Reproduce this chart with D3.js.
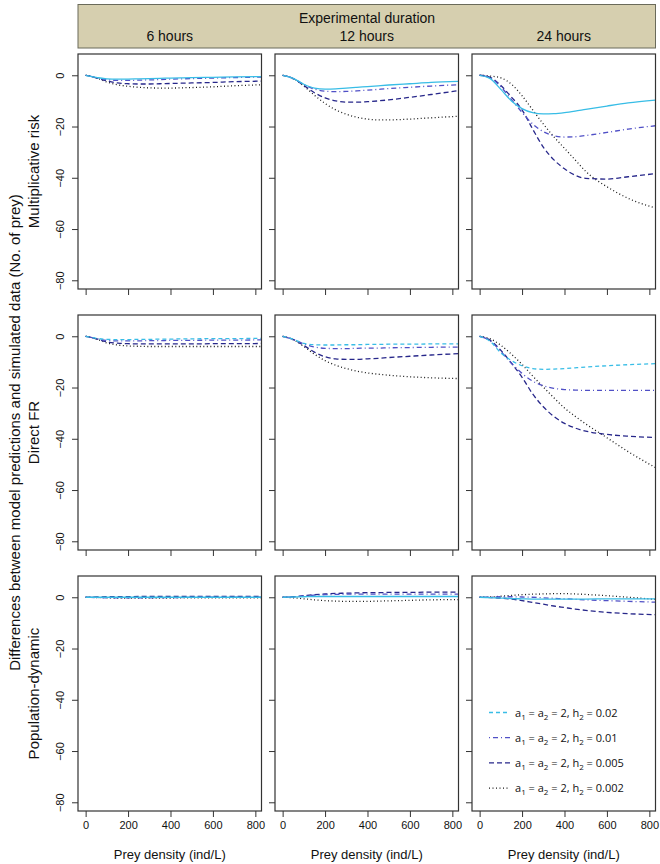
<!DOCTYPE html>
<html><head><meta charset="utf-8">
<script src="https://cdn.jsdelivr.net/npm/d3@7"></script>
<style>body{margin:0;background:#fff}svg{display:block}</style>
</head><body><svg id="c" width="660" height="864"></svg>
<script>
// ---------- data ----------
const durations = ["6 hours", "12 hours", "24 hours"];
const models = ["Multiplicative risk", "Direct FR", "Population-dynamic"];
const preyDensity = [0, 50, 100, 150, 200, 250, 300, 350, 400, 450, 500, 600, 700, 828];
const xTicks = [0, 200, 400, 600, 800];
const yTicks = [0, -20, -40, -60, -80];
const legendH2 = ["0.02", "0.01", "0.005", "0.002"];

// each panel: series for h2 = 0.02, 0.01, 0.005, 0.002
const multRisk6h = [
  [0,-0.8,-1.4,-1.5,-1.5,-1.4,-1.3,-1.2,-1.1,-1.0,-0.9,-0.8,-0.6,-0.5],
  [0,-0.9,-1.7,-2.0,-2.0,-1.9,-1.8,-1.7,-1.5,-1.4,-1.3,-1.1,-0.9,-0.7],
  [0,-1.0,-2.2,-3.0,-3.3,-3.4,-3.4,-3.3,-3.2,-3.1,-3.0,-2.8,-2.5,-2.3],
  [0,-1.0,-2.6,-3.7,-4.3,-4.7,-4.9,-5.0,-5.0,-4.9,-4.8,-4.5,-4.1,-3.7]
];
const multRisk12h = [
  [0,-1.2,-3.5,-5.0,-5.4,-5.3,-5.0,-4.7,-4.4,-4.1,-3.8,-3.3,-2.8,-2.4],
  [0,-1.2,-3.6,-5.4,-6.2,-6.4,-6.3,-6.1,-5.8,-5.5,-5.2,-4.7,-4.2,-3.7],
  [0,-1.3,-4.0,-6.8,-8.8,-10.0,-10.5,-10.5,-10.3,-10.0,-9.6,-8.6,-7.5,-6.0],
  [0,-1.3,-4.2,-7.8,-11.0,-13.5,-15.2,-16.4,-17.1,-17.4,-17.4,-17.1,-16.6,-16.0]
];
const multRisk24h = [
  [0,-1.3,-5.5,-10.0,-13.0,-14.6,-15.1,-15.0,-14.6,-14.0,-13.3,-12.0,-10.8,-9.7],
  [0,-1.0,-4.5,-9.5,-14.5,-19.0,-22.0,-23.6,-24.1,-24.0,-23.5,-22.3,-21.0,-19.7],
  [0,-0.8,-4.0,-8.5,-13.5,-21.0,-28.0,-33.0,-36.5,-39.0,-40.2,-40.5,-39.6,-38.4],
  [0,-0.3,-1.0,-3.5,-8.0,-13.5,-19.0,-24.0,-28.5,-33.0,-37.5,-43.5,-48.0,-51.8]
];
const directFR6h = [
  [0,-0.8,-1.2,-1.3,-1.3,-1.2,-1.2,-1.1,-1.1,-1.0,-1.0,-0.9,-0.9,-0.8],
  [0,-0.9,-1.6,-1.8,-1.8,-1.8,-1.7,-1.7,-1.6,-1.6,-1.6,-1.5,-1.5,-1.4],
  [0,-1.0,-2.2,-2.7,-2.9,-3.0,-3.0,-3.0,-3.0,-3.0,-3.0,-2.9,-2.9,-2.8],
  [0,-1.0,-2.6,-3.4,-3.8,-3.9,-4.0,-4.0,-4.0,-4.0,-4.0,-4.0,-4.0,-4.0]
];
const directFR12h = [
  [0,-1.2,-2.8,-3.3,-3.4,-3.4,-3.3,-3.3,-3.2,-3.2,-3.1,-3.1,-3.0,-3.0],
  [0,-1.2,-3.0,-4.2,-4.7,-4.8,-4.8,-4.7,-4.6,-4.6,-4.5,-4.4,-4.3,-4.2],
  [0,-1.3,-3.6,-6.2,-8.0,-8.8,-9.0,-9.0,-8.8,-8.6,-8.3,-7.8,-7.3,-6.8],
  [0,-1.3,-4.0,-7.0,-9.5,-11.3,-12.6,-13.6,-14.3,-14.8,-15.2,-15.8,-16.2,-16.5]
];
const directFR24h = [
  [0,-2.0,-6.5,-9.5,-11.5,-12.6,-12.9,-12.8,-12.6,-12.3,-12.0,-11.5,-11.1,-10.7],
  [0,-1.8,-6.0,-10.5,-14.5,-17.5,-19.3,-20.3,-20.8,-21.0,-21.1,-21.1,-21.1,-21.1],
  [0,-1.6,-5.5,-10.5,-16.0,-22.5,-27.5,-31.3,-34.0,-35.8,-37.0,-38.3,-39.0,-39.5],
  [0,-1.0,-3.5,-7.0,-11.0,-15.5,-19.8,-24.0,-28.0,-31.2,-34.2,-39.6,-45.0,-51.2]
];
const popDyn6h = [
  [0,0,0,0,0,0,0,0,0,0,0,0,0,0],
  [0,-0.1,-0.2,-0.2,-0.2,-0.2,-0.2,-0.1,-0.1,-0.1,0,0,0,0],
  [0,0.1,0.2,0.2,0.2,0.3,0.3,0.3,0.3,0.3,0.3,0.3,0.3,0.3],
  [0,-0.1,-0.2,-0.3,-0.3,-0.3,-0.3,-0.3,-0.3,-0.2,-0.2,-0.2,-0.2,-0.2]
];
const popDyn12h = [
  [0,0.1,0.2,0.3,0.3,0.3,0.3,0.3,0.3,0.3,0.3,0.3,0.3,0.3],
  [0,0.2,0.5,0.8,1.0,1.1,1.2,1.2,1.2,1.2,1.2,1.2,1.2,1.2],
  [0,0.2,0.6,1.0,1.3,1.5,1.6,1.7,1.8,1.8,1.9,1.9,2.0,2.0],
  [0,-0.2,-0.6,-1.0,-1.3,-1.5,-1.6,-1.6,-1.6,-1.5,-1.4,-1.2,-1.0,-0.9]
];
const popDyn24h = [
  [0,-0.1,-0.3,-0.5,-0.6,-0.7,-0.7,-0.7,-0.7,-0.7,-0.7,-0.6,-0.6,-0.6],
  [0,0.1,0.2,0.2,0.1,0,-0.2,-0.4,-0.6,-0.8,-1.0,-1.3,-1.6,-1.9],
  [0,-0.1,-0.3,-0.7,-1.3,-2.0,-2.7,-3.4,-4.0,-4.6,-5.1,-5.9,-6.4,-6.8],
  [0,0.1,0.4,0.7,1.0,1.2,1.3,1.4,1.4,1.3,1.1,0.6,0,-0.8]
];
const panelData = [
  [multRisk6h, multRisk12h, multRisk24h],
  [directFR6h, directFR12h, directFR24h],
  [popDyn6h, popDyn12h, popDyn24h]
];

// ---------- style ----------
const colors = ["#38bde6", "#5050c6", "#27278a", "#1a1a1a"];
const dashes = ["4,3", "1,3,5,3", "5,3", "1,2.5"];
const solidFirstRow = [true, false, true]; // h2=0.02 drawn solid in rows 1 and 3

const svg = d3.select("#c");
const font = "Liberation Sans, Arial, sans-serif";
const left0 = 78, panelW = 183.5, colGap = 13.5;
const top0 = 54, panelH = 235, rowGap = 26;

// header
const hdr = svg.append("g");
hdr.append("rect").attr("x", 78).attr("y", 4.5).attr("width", 577.5).attr("height", 43.5)
  .attr("fill", "#d6cfaf").attr("stroke", "#6a6a5a").attr("stroke-width", 1);
hdr.append("text").attr("x", 367).attr("y", 22.5).attr("text-anchor", "middle")
  .attr("font-family", font).attr("font-size", 14).attr("fill", "#111").text("Experimental duration");
durations.forEach((d, j) => {
  hdr.append("text").attr("x", left0 + j * (panelW + colGap) + panelW / 2).attr("y", 40.5)
    .attr("text-anchor", "middle").attr("font-family", font).attr("font-size", 14).attr("fill", "#111").text(d);
});

// big y label
svg.append("text").attr("transform", `translate(14,${(top0 + top0 + 3 * panelH + 2 * rowGap) / 2}) rotate(-90)`)
  .attr("text-anchor", "middle").attr("dominant-baseline", "central")
  .attr("font-family", font).attr("font-size", 15).attr("fill", "#111")
  .text("Differences between model predictions and simulated data (No. of prey)");

models.forEach((m, i) => {
  const py = top0 + i * (panelH + rowGap);
  svg.append("text").attr("transform", `translate(33,${py + panelH / 2}) rotate(-90)`)
    .attr("text-anchor", "middle").attr("dominant-baseline", "central")
    .attr("font-family", font).attr("font-size", 15).attr("fill", "#111").text(m);

  durations.forEach((d, j) => {
    const px = left0 + j * (panelW + colGap);
    const x = d3.scaleLinear().domain([-36, 829]).range([px, px + panelW]);
    const y = d3.scaleLinear().domain([8.3, -83.4]).range([py, py + panelH]);
    const g = svg.append("g");
    const cid = `clip${i}${j}`;
    g.append("clipPath").attr("id", cid).append("rect")
      .attr("x", px).attr("y", py).attr("width", panelW).attr("height", panelH);

    // axes
    const ax = g.append("g").attr("transform", `translate(0,${py + panelH})`)
      .call(d3.axisBottom(x).tickValues(xTicks).tickSize(6).tickSizeOuter(0)
        .tickFormat(i === 2 ? d3.format("d") : () => ""));
    ax.select(".domain").remove();
    ax.selectAll("line").attr("stroke", "#333");
    ax.selectAll("text").attr("font-family", font).attr("font-size", 11).attr("fill", "#111").attr("dy", "0.55em").attr("y", 12);

    const ay = g.append("g").attr("transform", `translate(${px},0)`)
      .call(d3.axisLeft(y).tickValues(yTicks).tickSize(6).tickSizeOuter(0)
        .tickFormat(j === 0 ? d3.format("d") : () => ""));
    ay.select(".domain").remove();
    ay.selectAll("line").attr("stroke", "#333");
    ay.selectAll("text").attr("font-family", font).attr("font-size", 11).attr("fill", "#111")
      .attr("x", null).attr("dy", null)
      .attr("text-anchor", "middle")
      .attr("transform", "translate(-14,0) rotate(-90)");

    // lines
    const line = d3.line().x((v, k) => x(preyDensity[k])).y(v => y(v)).curve(d3.curveMonotoneX);
    const lg = g.append("g").attr("clip-path", `url(#${cid})`);
    const series = panelData[i][j];
    [3, 2, 1, 0].forEach(s => {
      const p = lg.append("path").attr("d", line(series[s])).attr("fill", "none")
        .attr("stroke", colors[s]).attr("stroke-width", 1.3);
      if (!(s === 0 && solidFirstRow[i])) p.attr("stroke-dasharray", dashes[s]);
    });

    g.append("rect").attr("x", px).attr("y", py).attr("width", panelW).attr("height", panelH)
      .attr("fill", "none").attr("stroke", "#333").attr("stroke-width", 1.2);

    if (i === 2) {
      svg.append("text").attr("x", px + panelW / 2).attr("y", 859).attr("text-anchor", "middle")
        .attr("font-family", font).attr("font-size", 13).attr("fill", "#111").text("Prey density (ind/L)");
    }

    // legend in bottom-right panel
    if (i === 2 && j === 2) {
      const leg = g.append("g");
      legendH2.forEach((h, k) => {
        const ly = 712.5 + k * 25.2;
        leg.append("line").attr("x1", 489).attr("x2", 510).attr("y1", ly).attr("y2", ly)
          .attr("stroke", colors[k]).attr("stroke-width", 1.3).attr("stroke-dasharray", dashes[k]);
        const t = leg.append("text").attr("x", 515).attr("y", ly + 4)
          .attr("font-family", "Open Sans, Liberation Sans, sans-serif").attr("font-size", 11).attr("fill", "#111");
        t.append("tspan").text("a");
        t.append("tspan").attr("dy", 3).attr("font-size", 8).text("1");
        t.append("tspan").attr("dy", -3).text(" = a");
        t.append("tspan").attr("dy", 3).attr("font-size", 8).text("2");
        t.append("tspan").attr("dy", -3).text(" = 2, h");
        t.append("tspan").attr("dy", 3).attr("font-size", 8).text("2");
        t.append("tspan").attr("dy", -3).text(" = " + h);
      });
    }
  });
});
</script></body></html>
